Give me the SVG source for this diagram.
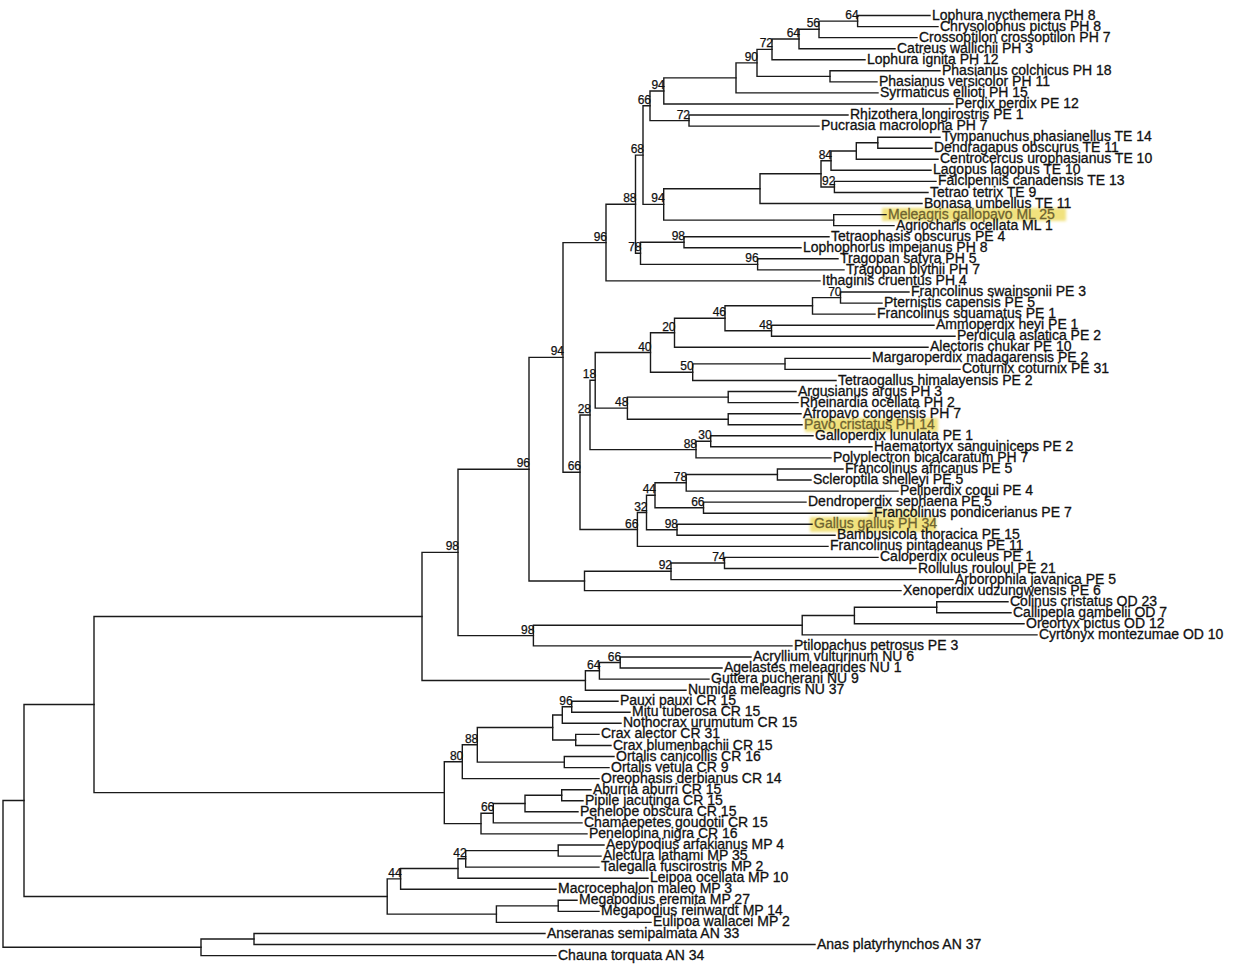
<svg xmlns="http://www.w3.org/2000/svg" width="1236" height="977" viewBox="0 0 1236 977">
<defs>
<style>
.b{fill:none;stroke:#1a1a1a;stroke-width:1.4;stroke-linecap:square}
.t{font-family:"Liberation Sans",Arial,sans-serif;font-size:14px;fill:#111;stroke:#111;stroke-width:0.3}
.t .h{fill:#6e6330;stroke:#6e6330}
.s{font-family:"Liberation Sans",Arial,sans-serif;font-size:12px;fill:#111;stroke:#111;stroke-width:0.25;text-anchor:end}
.hl{fill:#f1e27e;filter:url(#blur)}
</style>
<filter id="blur" x="-10%" y="-50%" width="120%" height="200%"><feGaussianBlur stdDeviation="1.5"/></filter>
</defs>
<rect width="1236" height="977" fill="#fff"/>
<g id="highlights">
<rect class="hl" x="882" y="208" width="184" height="13"/>
<rect class="hl" x="805" y="418" width="133" height="14"/>
<rect class="hl" x="810" y="517" width="126" height="15"/>
<rect class="hl" x="868" y="509" width="50" height="9" opacity="0.7"/>
</g>
<g id="connectors" class="b">
<path d="M930 15.5H857.6V26.6H938"/>
<path d="M857.6 21.1H819V37.6H917"/>
<path d="M819 29.3H799V48.7H895"/>
<path d="M799 39H772V59.7H865"/>
<path d="M940 70.8H830V81.9H877"/>
<path d="M772 49.4H757V76.4H830"/>
<path d="M757 62.9H736V92.9H878"/>
<path d="M736 77.9H663.8V104H953"/>
<path d="M848 115H689V126.1H819"/>
<path d="M663.8 91H650V120.6H689"/>
<path d="M940 137.2H877.8V148.2H932"/>
<path d="M877.8 142.7H856.3V159.3H938"/>
<path d="M856.3 151H831V170.3H931"/>
<path d="M936 181.4H834.4V192.5H928"/>
<path d="M831 160.7H821V187H834.4"/>
<path d="M821 173.8H760V203.5H922"/>
<path d="M886 214.6H833.7V225.6H894"/>
<path d="M760 188.7H663.7V220.1H833.7"/>
<path d="M650 105.8H643V204.4H663.7"/>
<path d="M829 236.7H684V247.8H801"/>
<path d="M838 258.8H757.6V269.9H844"/>
<path d="M684 242.3H640.5V264.4H757.6"/>
<path d="M643 155.1H635.5V253.3H640.5"/>
<path d="M635.5 204.2H606V280.9H820"/>
<path d="M909 292H840.5V303.1H882"/>
<path d="M840.5 297.6H812.5V314.1H875"/>
<path d="M934 325.2H771.5V336.2H955"/>
<path d="M812.5 305.8H725V330.7H771.5"/>
<path d="M725 318.3H674.5V347.3H928"/>
<path d="M870 358.4H785V369.4H960"/>
<path d="M785 363.9H692.7V380.5H836"/>
<path d="M674.5 332.8H650.5V372.2H692.7"/>
<path d="M796 391.5H728.2V402.6H798"/>
<path d="M801 413.7H728.2V424.7H802"/>
<path d="M728.2 397.1H627.4V419.2H728.2"/>
<path d="M650.5 352.5H595.2V408.1H627.4"/>
<path d="M813 435.8H710.7V446.8H872"/>
<path d="M710.7 441.3H696V457.9H831"/>
<path d="M595.2 380.3H590V449.6H696"/>
<path d="M843 469H777.4V480H811"/>
<path d="M777.4 474.5H686.2V491.1H898"/>
<path d="M806 502.1H703.5V513.2H872"/>
<path d="M686.2 482.8H655V507.7H703.5"/>
<path d="M812 524.3H677V535.3H835"/>
<path d="M655 495.2H646.5V529.8H677"/>
<path d="M646.5 512.5H637.4V546.4H828"/>
<path d="M590 415H580V529.5H637.4"/>
<path d="M606 242.6H563V472.2H580"/>
<path d="M878 557.4H724.5V568.5H916"/>
<path d="M724.5 563H671V579.6H953"/>
<path d="M671 571.3H584.5V590.6H901"/>
<path d="M563 357.4H529V581H584.5"/>
<path d="M1008 601.7H936.7V612.7H1011"/>
<path d="M936.7 607.2H854.4V623.8H1024"/>
<path d="M854.4 615.5H802.2V634.9H1037"/>
<path d="M802.2 625.2H533.4V645.9H792"/>
<path d="M529 469.2H458V635.6H533.4"/>
<path d="M751 657H620.2V668H722"/>
<path d="M620.2 662.5H599.4V679.1H709"/>
<path d="M599.4 670.8H585.4V690.2H686"/>
<path d="M458 552.4H422V680.5H585.4"/>
<path d="M618 701.2H571.7V712.3H630"/>
<path d="M571.7 706.8H562.3V723.3H621"/>
<path d="M599 734.4H575.7V745.5H611"/>
<path d="M562.3 715H552.7V740H575.7"/>
<path d="M614 756.5H564.3V767.6H609"/>
<path d="M552.7 727.5H477.3V762.1H564.3"/>
<path d="M477.3 744.8H462.3V778.6H599"/>
<path d="M591 789.7H561.7V800.8H583"/>
<path d="M561.7 795.3H525V811.8H578"/>
<path d="M525 803.5H493.3V822.9H582"/>
<path d="M493.3 813.2H481V833.9H587"/>
<path d="M462.3 761.7H444.3V823.6H481"/>
<path d="M422 616.5H94V792.6H444.3"/>
<path d="M604 845H558.2V856.1H601"/>
<path d="M558.2 850.6H465.7V867.1H599"/>
<path d="M465.7 858.8H458V878.2H648"/>
<path d="M458 868.5H400.6V889.2H556"/>
<path d="M577 900.3H558.2V911.4H599"/>
<path d="M558.2 905.9H496.4V922.4H651"/>
<path d="M400.6 878.9H387.2V914.1H496.4"/>
<path d="M94 704.5H24V896.5H387.2"/>
<path d="M545 933.5H254V944.5H815"/>
<path d="M254 939H201V955.6H556"/>
<path d="M24 800.5H3V947.3H201"/>
</g>
<g id="supports">
<g id="n-64a"><text class="s" x="858.6" y="19.1">64</text></g>
<g id="n-56"><text class="s" x="820" y="27.3">56</text></g>
<g id="n-64b"><text class="s" x="800" y="37">64</text></g>
<g id="n-72a"><text class="s" x="773" y="47.4">72</text></g>
<g id="n-90"><text class="s" x="758" y="60.9">90</text></g>
<g id="n-94a"><text class="s" x="664.8" y="89">94</text></g>
<g id="n-66a"><text class="s" x="651" y="103.8">66</text></g>
<g id="n-72b"><text class="s" x="690" y="118.6">72</text></g>
<g id="n-68"><text class="s" x="644" y="153.1">68</text></g>
<g id="n-84"><text class="s" x="832" y="158.7">84</text></g>
<g id="n-92a"><text class="s" x="835.4" y="185">92</text></g>
<g id="n-94b"><text class="s" x="664.7" y="202.4">94</text></g>
<g id="n-88a"><text class="s" x="636.5" y="202.2">88</text></g>
<g id="n-98a"><text class="s" x="685" y="240.3">98</text></g>
<g id="n-78a"><text class="s" x="641.5" y="251.3">78</text></g>
<g id="n-96a"><text class="s" x="758.6" y="262.4">96</text></g>
<g id="n-96b"><text class="s" x="607" y="240.6">96</text></g>
<g id="n-70"><text class="s" x="841.5" y="295.6">70</text></g>
<g id="n-46"><text class="s" x="726" y="316.3">46</text></g>
<g id="n-48a"><text class="s" x="772.5" y="328.7">48</text></g>
<g id="n-20"><text class="s" x="675.5" y="330.8">20</text></g>
<g id="n-40"><text class="s" x="651.5" y="350.5">40</text></g>
<g id="n-50"><text class="s" x="693.7" y="370.2">50</text></g>
<g id="n-18"><text class="s" x="596.2" y="378.3">18</text></g>
<g id="n-48b"><text class="s" x="628.4" y="406.1">48</text></g>
<g id="n-28"><text class="s" x="591" y="413">28</text></g>
<g id="n-30"><text class="s" x="711.7" y="439.3">30</text></g>
<g id="n-88b"><text class="s" x="697" y="447.6">88</text></g>
<g id="n-66b"><text class="s" x="581" y="470.2">66</text></g>
<g id="n-94c"><text class="s" x="564" y="355.4">94</text></g>
<g id="n-78b"><text class="s" x="687.2" y="480.8">78</text></g>
<g id="n-44a"><text class="s" x="656" y="493.2">44</text></g>
<g id="n-66c"><text class="s" x="704.5" y="505.7">66</text></g>
<g id="n-32"><text class="s" x="647.5" y="510.5">32</text></g>
<g id="n-98b"><text class="s" x="678" y="527.8">98</text></g>
<g id="n-66d"><text class="s" x="638.4" y="527.5">66</text></g>
<g id="n-74"><text class="s" x="725.5" y="561">74</text></g>
<g id="n-92b"><text class="s" x="672" y="569.3">92</text></g>
<g id="n-96c"><text class="s" x="530" y="467.2">96</text></g>
<g id="n-98c"><text class="s" x="459" y="550.4">98</text></g>
<g id="n-98d"><text class="s" x="534.4" y="633.6">98</text></g>
<g id="n-66e"><text class="s" x="621.2" y="660.5">66</text></g>
<g id="n-64c"><text class="s" x="600.4" y="668.8">64</text></g>
<g id="n-96d"><text class="s" x="572.7" y="704.8">96</text></g>
<g id="n-88c"><text class="s" x="478.3" y="742.8">88</text></g>
<g id="n-80"><text class="s" x="463.3" y="759.7">80</text></g>
<g id="n-66f"><text class="s" x="494.3" y="811.2">66</text></g>
<g id="n-42"><text class="s" x="466.7" y="856.8">42</text></g>
<g id="n-44b"><text class="s" x="401.6" y="876.9">44</text></g>
</g>
<g id="leaves" class="t" transform="translate(0,-0.5)">
<g id="leaf-01"><text x="932" y="20">Lophura nycthemera PH 8</text></g>
<g id="leaf-02"><text x="940" y="31.1">Chrysolophus pictus PH 8</text></g>
<g id="leaf-03"><text x="919" y="42.1">Crossoptilon crossoptilon PH 7</text></g>
<g id="leaf-04"><text x="897" y="53.2">Catreus wallichii PH 3</text></g>
<g id="leaf-05"><text x="867" y="64.2">Lophura ignita PH 12</text></g>
<g id="leaf-06"><text x="942" y="75.3">Phasianus colchicus PH 18</text></g>
<g id="leaf-07"><text x="879" y="86.4">Phasianus versicolor PH 11</text></g>
<g id="leaf-08"><text x="880" y="97.4">Syrmaticus ellioti PH 15</text></g>
<g id="leaf-09"><text x="955" y="108.5">Perdix perdix PE 12</text></g>
<g id="leaf-10"><text x="850" y="119.5">Rhizothera longirostris PE 1</text></g>
<g id="leaf-11"><text x="821" y="130.6">Pucrasia macrolopha PH 7</text></g>
<g id="leaf-12"><text x="942" y="141.7">Tympanuchus phasianellus TE 14</text></g>
<g id="leaf-13"><text x="934" y="152.7">Dendragapus obscurus TE 11</text></g>
<g id="leaf-14"><text x="940" y="163.8">Centrocercus urophasianus TE 10</text></g>
<g id="leaf-15"><text x="933" y="174.8">Lagopus lagopus TE 10</text></g>
<g id="leaf-16"><text x="938" y="185.9">Falcipennis canadensis TE 13</text></g>
<g id="leaf-17"><text x="930" y="197">Tetrao tetrix TE 9</text></g>
<g id="leaf-18"><text x="924" y="208">Bonasa umbellus TE 11</text></g>
<g id="leaf-19"><text class="h" x="888" y="219.1">Meleagris gallopavo ML 25</text></g>
<g id="leaf-20"><text x="896" y="230.1">Agriocharis ocellata ML 1</text></g>
<g id="leaf-21"><text x="831" y="241.2">Tetraophasis obscurus PE 4</text></g>
<g id="leaf-22"><text x="803" y="252.3">Lophophorus impejanus PH 8</text></g>
<g id="leaf-23"><text x="840" y="263.3">Tragopan satyra PH 5</text></g>
<g id="leaf-24"><text x="846" y="274.4">Tragopan blythii PH 7</text></g>
<g id="leaf-25"><text x="822" y="285.4">Ithaginis cruentus PH 4</text></g>
<g id="leaf-26"><text x="911" y="296.5">Francolinus swainsonii PE 3</text></g>
<g id="leaf-27"><text x="884" y="307.6">Pternistis capensis PE 5</text></g>
<g id="leaf-28"><text x="877" y="318.6">Francolinus squamatus PE 1</text></g>
<g id="leaf-29"><text x="936" y="329.7">Ammoperdix heyi PE 1</text></g>
<g id="leaf-30"><text x="957" y="340.7">Perdicula asiatica PE 2</text></g>
<g id="leaf-31"><text x="930" y="351.8">Alectoris chukar PE 10</text></g>
<g id="leaf-32"><text x="872" y="362.9">Margaroperdix madagarensis PE 2</text></g>
<g id="leaf-33"><text x="962" y="373.9">Coturnix coturnix PE 31</text></g>
<g id="leaf-34"><text x="838" y="385">Tetraogallus himalayensis PE 2</text></g>
<g id="leaf-35"><text x="798" y="396">Argusianus argus PH 3</text></g>
<g id="leaf-36"><text x="800" y="407.1">Rheinardia ocellata PH 2</text></g>
<g id="leaf-37"><text x="803" y="418.2">Afropavo congensis PH 7</text></g>
<g id="leaf-38"><text class="h" x="804" y="429.2">Pavo cristatus PH 14</text></g>
<g id="leaf-39"><text x="815" y="440.3">Galloperdix lunulata PE 1</text></g>
<g id="leaf-40"><text x="874" y="451.3">Haematortyx sanguiniceps PE 2</text></g>
<g id="leaf-41"><text x="833" y="462.4">Polyplectron bicalcaratum PH 7</text></g>
<g id="leaf-42"><text x="845" y="473.5">Francolinus africanus PE 5</text></g>
<g id="leaf-43"><text x="813" y="484.5">Scleroptila shelleyi PE 5</text></g>
<g id="leaf-44"><text x="900" y="495.6">Peliperdix coqui PE 4</text></g>
<g id="leaf-45"><text x="808" y="506.6">Dendroperdix sephaena PE 5</text></g>
<g id="leaf-46"><text x="874" y="517.7">Francolinus pondicerianus PE 7</text></g>
<g id="leaf-47"><text class="h" x="814" y="528.8">Gallus gallus PH 34</text></g>
<g id="leaf-48"><text x="837" y="539.8">Bambusicola thoracica PE 15</text></g>
<g id="leaf-49"><text x="830" y="550.9">Francolinus pintadeanus PE 11</text></g>
<g id="leaf-50"><text x="880" y="561.9">Caloperdix oculeus PE 1</text></g>
<g id="leaf-51"><text x="918" y="573">Rollulus rouloul PE 21</text></g>
<g id="leaf-52"><text x="955" y="584.1">Arborophila javanica PE 5</text></g>
<g id="leaf-53"><text x="903" y="595.1">Xenoperdix udzungwensis PE 6</text></g>
<g id="leaf-54"><text x="1010" y="606.2">Colinus cristatus OD 23</text></g>
<g id="leaf-55"><text x="1013" y="617.2">Callipepla gambelii OD 7</text></g>
<g id="leaf-56"><text x="1026" y="628.3">Oreortyx pictus OD 12</text></g>
<g id="leaf-57"><text x="1039" y="639.4">Cyrtonyx montezumae OD 10</text></g>
<g id="leaf-58"><text x="794" y="650.4">Ptilopachus petrosus PE 3</text></g>
<g id="leaf-59"><text x="753" y="661.5">Acryllium vulturinum NU 6</text></g>
<g id="leaf-60"><text x="724" y="672.5">Agelastes meleagrides NU 1</text></g>
<g id="leaf-61"><text x="711" y="683.6">Guttera pucherani NU 9</text></g>
<g id="leaf-62"><text x="688" y="694.7">Numida meleagris NU 37</text></g>
<g id="leaf-63"><text x="620" y="705.7">Pauxi pauxi CR 15</text></g>
<g id="leaf-64"><text x="632" y="716.8">Mitu tuberosa CR 15</text></g>
<g id="leaf-65"><text x="623" y="727.8">Nothocrax urumutum CR 15</text></g>
<g id="leaf-66"><text x="601" y="738.9">Crax alector CR 31</text></g>
<g id="leaf-67"><text x="613" y="750">Crax blumenbachii CR 15</text></g>
<g id="leaf-68"><text x="616" y="761">Ortalis canicollis CR 16</text></g>
<g id="leaf-69"><text x="611" y="772.1">Ortalis vetula CR 9</text></g>
<g id="leaf-70"><text x="601" y="783.1">Oreophasis derbianus CR 14</text></g>
<g id="leaf-71"><text x="593" y="794.2">Aburria aburri CR 15</text></g>
<g id="leaf-72"><text x="585" y="805.3">Pipile jacutinga CR 15</text></g>
<g id="leaf-73"><text x="580" y="816.3">Penelope obscura CR 15</text></g>
<g id="leaf-74"><text x="584" y="827.4">Chamaepetes goudotii CR 15</text></g>
<g id="leaf-75"><text x="589" y="838.4">Penelopina nigra CR 16</text></g>
<g id="leaf-76"><text x="606" y="849.5">Aepypodius arfakianus MP 4</text></g>
<g id="leaf-77"><text x="603" y="860.6">Alectura lathami MP 35</text></g>
<g id="leaf-78"><text x="601" y="871.6">Talegalla fuscirostris MP 2</text></g>
<g id="leaf-79"><text x="650" y="882.7">Leipoa ocellata MP 10</text></g>
<g id="leaf-80"><text x="558" y="893.7">Macrocephalon maleo MP 3</text></g>
<g id="leaf-81"><text x="579" y="904.8">Megapodius eremita MP 27</text></g>
<g id="leaf-82"><text x="601" y="915.9">Megapodius reinwardt MP 14</text></g>
<g id="leaf-83"><text x="653" y="926.9">Eulipoa wallacei MP 2</text></g>
<g id="leaf-84"><text x="547" y="938">Anseranas semipalmata AN 33</text></g>
<g id="leaf-85"><text x="817" y="949">Anas platyrhynchos AN 37</text></g>
<g id="leaf-86"><text x="558" y="960.1">Chauna torquata AN 34</text></g>
</g>
</svg>
